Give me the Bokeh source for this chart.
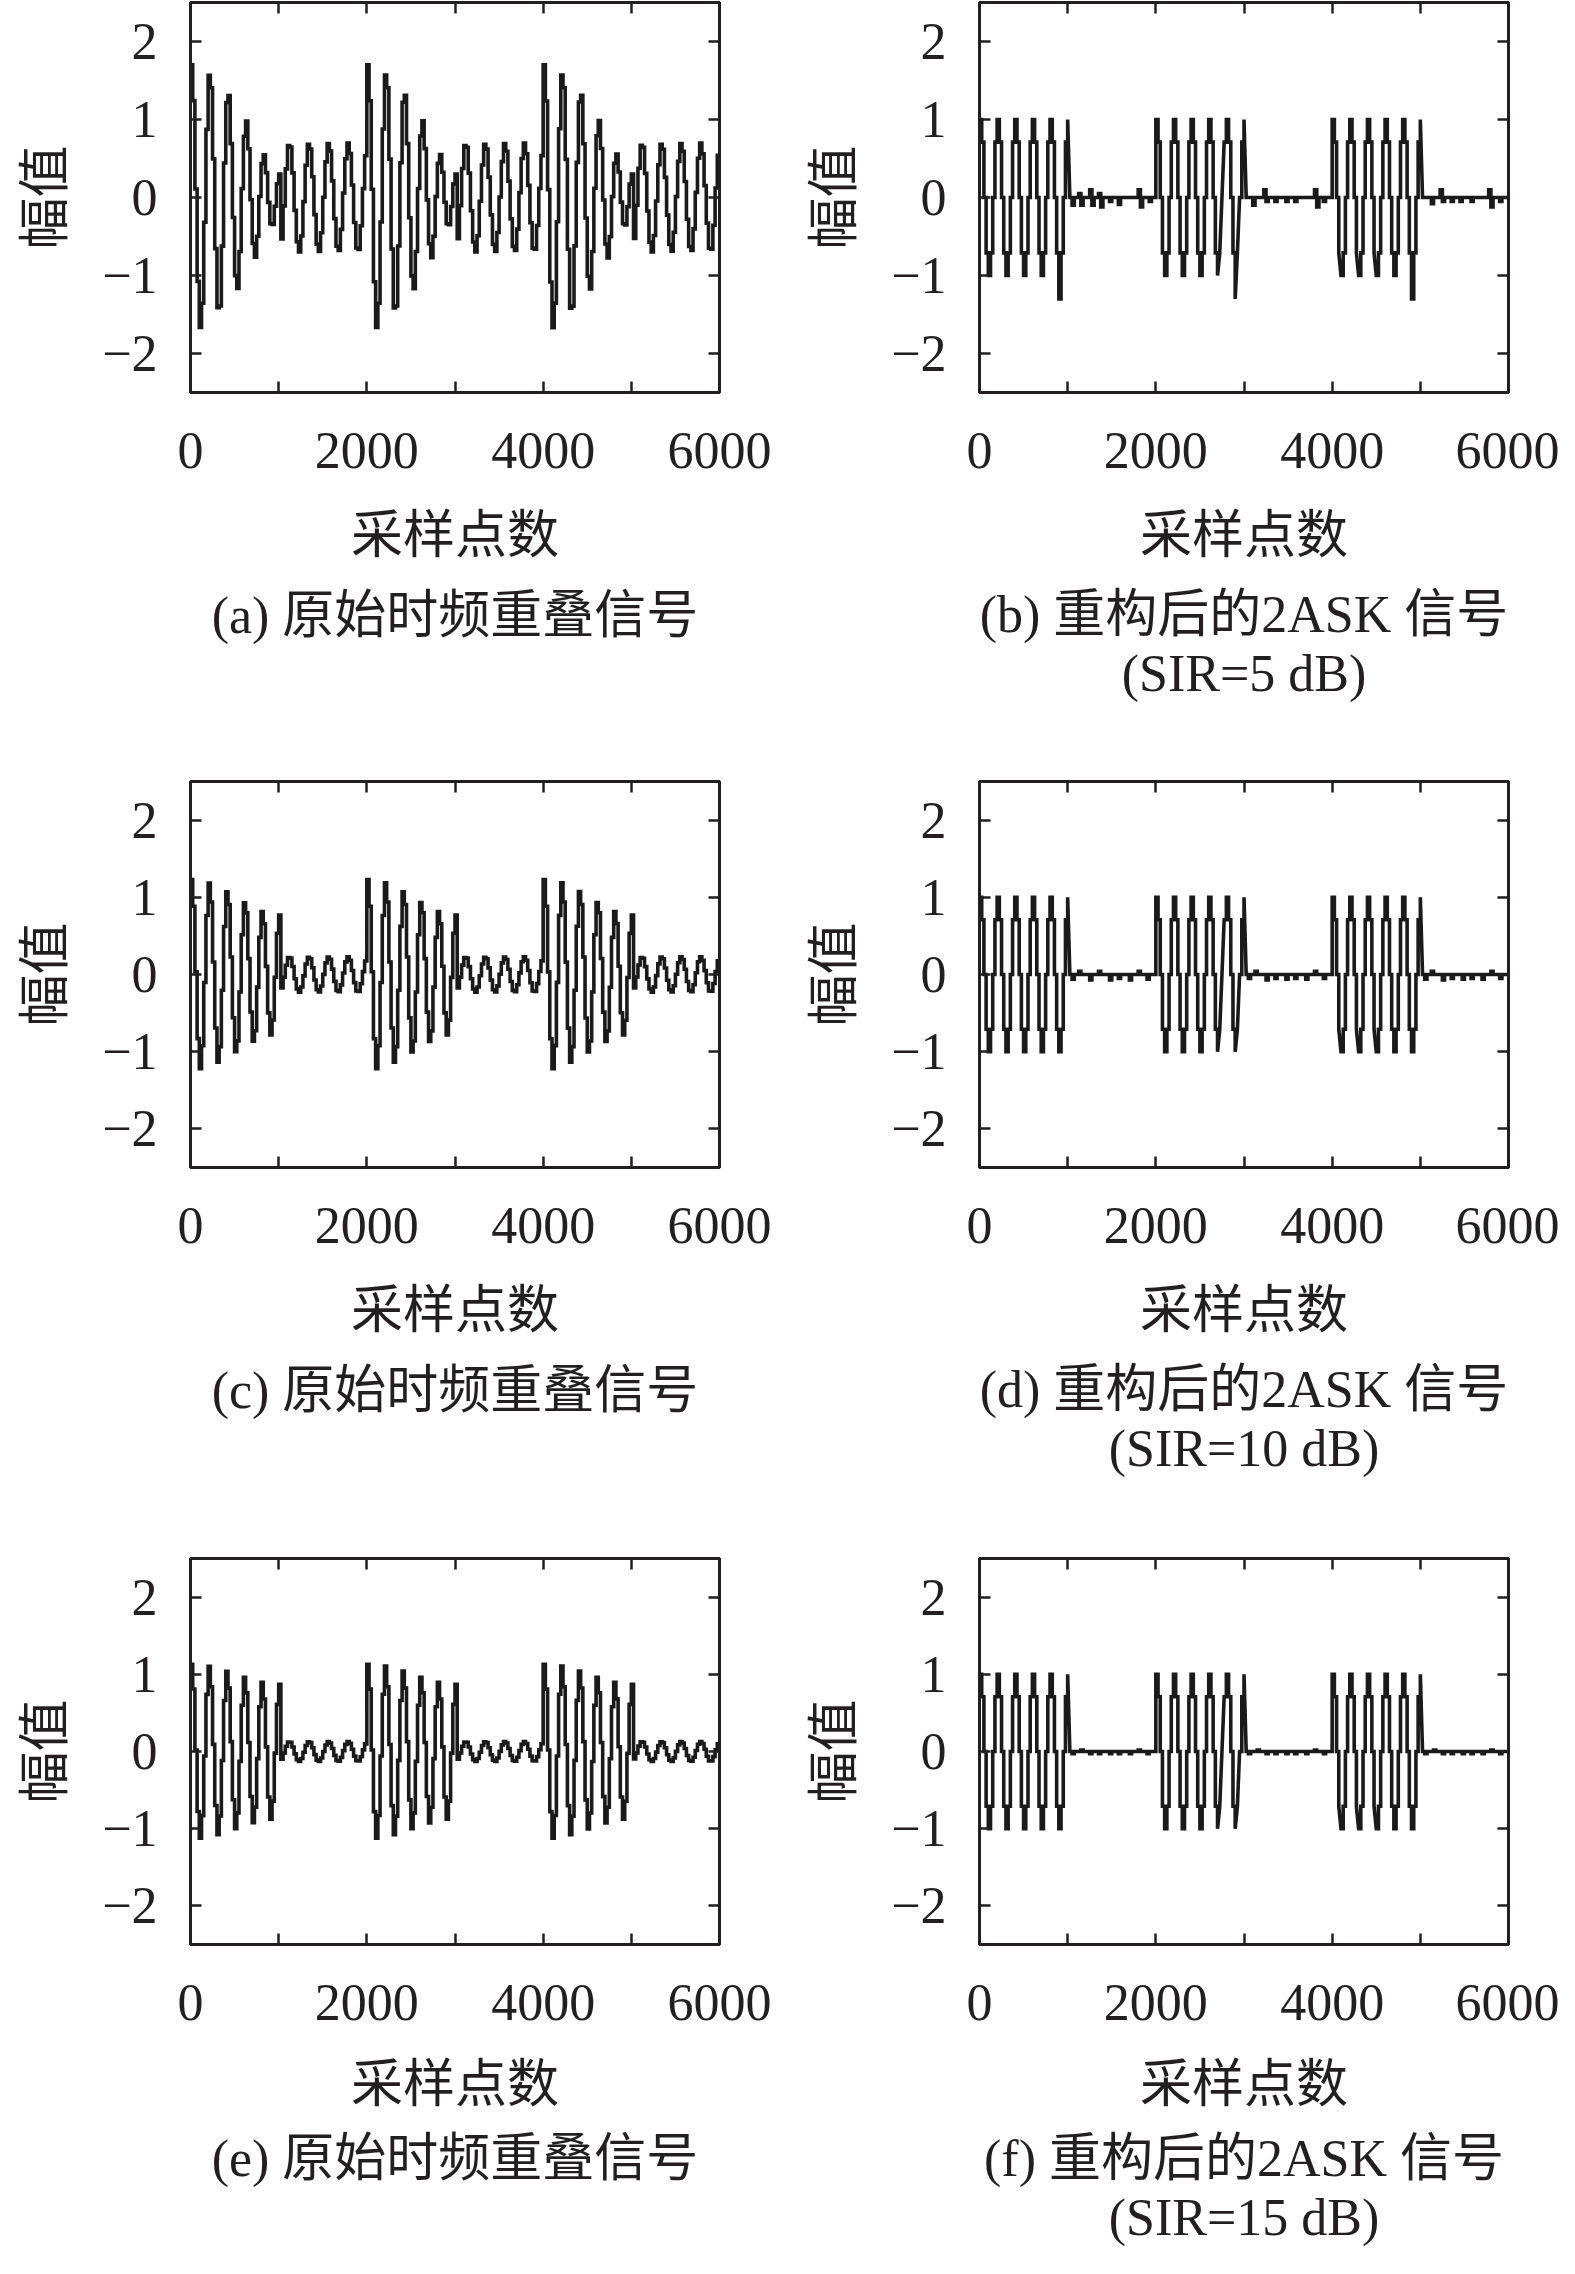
import numpy as np
from bokeh.plotting import figure
from bokeh.models import Range1d, FixedTicker, LinearAxis, Title
from bokeh.layouts import column, row
from bokeh.embed import file_html
from bokeh.resources import INLINE

# ---------------- data ----------------
SAMPLES = 6000                      # x extent (sampling points)
HOLD = 25                           # samples per held value of the staircase
SYMBOLS = [1, 0, 1, 0, 1, 0]        # 2ASK on/off, one symbol per 1000 samples
CARRIER_LEVELS = [1.0, 0.71, 0.0, -0.71, -1.0, -0.71, 0.0, 0.71]   # one carrier period (8 holds)
INTERF_PERIOD = 222.2               # period of the interfering signal (samples)
INTERF_AMP_A = 0.70                 # panel (a)
INTERF_AMP_C = 0.23                 # panel (c)
INTERF_AMP_E = 0.13                 # panel (e)

# residual blips of the reconstructed signals (sample, value)
BLIPS_B = [(1050, -0.10), (1125, 0.05), (1150, -0.10), (1250, 0.10), (1275, -0.10),
           (1350, 0.05), (1375, -0.12), (1475, -0.05), (1575, -0.09), (1800, 0.10),
           (1825, -0.12), (1925, -0.05),
           (3100, -0.10), (3225, 0.10), (3250, -0.05), (3350, -0.05), (3475, -0.05),
           (3575, -0.05), (3800, 0.10), (3825, -0.12), (3900, -0.05),
           (5125, -0.08), (5225, 0.10), (5250, -0.05), (5350, -0.05), (5450, -0.05),
           (5575, -0.05), (5775, 0.10), (5800, -0.12), (5900, -0.05)]
SPIKES_B = [(900, -1.30), (2900, -1.30), (4900, -1.30)]
BLIPS_D = [(1050, -0.06), (1125, 0.04), (1250, -0.07), (1350, 0.04), (1475, -0.07),
           (1575, -0.05), (1700, -0.07), (1800, 0.04), (1900, -0.06),
           (3050, -0.05), (3125, 0.04), (3250, -0.07), (3350, -0.05), (3475, -0.06),
           (3575, -0.05), (3700, -0.06), (3800, 0.04), (3900, -0.05),
           (5050, -0.06), (5125, 0.04), (5250, -0.07), (5350, -0.05), (5475, -0.06),
           (5575, -0.05), (5700, -0.06), (5800, 0.04), (5900, -0.05)]
BLIPS_F = [(1050, -0.03), (1150, 0.02), (1250, -0.03), (1350, -0.03), (1475, -0.03),
           (1575, -0.03), (1700, -0.03), (1800, 0.02), (1900, -0.03),
           (3050, -0.03), (3150, 0.02), (3250, -0.03), (3350, -0.03), (3475, -0.03),
           (3575, -0.03), (3700, -0.03), (3800, 0.02), (3900, -0.03),
           (5050, -0.03), (5150, 0.02), (5250, -0.03), (5350, -0.03), (5475, -0.03),
           (5575, -0.03), (5700, -0.03), (5800, 0.02), (5900, -0.03)]
# holds drawn as slanted segments instead of flat steps (sample positions)
RAMPS_RECON = [1000, 3000, 5000, 2700, 2725, 2750, 2900, 2925, 4075, 4275, 4475]

X_TICKS = [0, 1000, 2000, 3000, 4000, 5000, 6000]
X_TICK_LABELS = {0: "0", 1000: "", 2000: "2000", 3000: "", 4000: "4000", 5000: "", 6000: "6000"}
Y_TICKS = [-2, -1, 0, 1, 2]
Y_TICK_LABELS = {-2: "\u22122", -1: "\u22121", 0: "0", 1: "1", 2: "2"}
X_LABEL = "采样点数"
Y_LABEL = "幅值"
CAP_A = ["(a) 原始时频重叠信号"]
CAP_B = ["(b) 重构后的2ASK 信号", "(SIR=5 dB)"]
CAP_C = ["(c) 原始时频重叠信号"]
CAP_D = ["(d) 重构后的2ASK 信号", "(SIR=10 dB)"]
CAP_E = ["(e) 原始时频重叠信号"]
CAP_F = ["(f) 重构后的2ASK 信号", "(SIR=15 dB)"]

# ---------------- signal construction ----------------
N_HOLDS = SAMPLES // HOLD
HOLDS_PER_SYMBOL = N_HOLDS // len(SYMBOLS)


def ask_levels():
    lv = []
    for k in range(N_HOLDS):
        s = k // HOLDS_PER_SYMBOL
        on = SYMBOLS[s] == 1 or (k % HOLDS_PER_SYMBOL == 0 and s > 0 and SYMBOLS[s - 1] == 1)
        lv.append(CARRIER_LEVELS[k % len(CARRIER_LEVELS)] if on else 0.0)
    return np.array(lv)


def overlapped(amp):
    k = np.arange(N_HOLDS)
    return ask_levels() + amp * np.cos(2 * np.pi * k * HOLD / INTERF_PERIOD)


def reconstructed(overrides):
    lv = ask_levels()
    for s, v in overrides:
        lv[s // HOLD] = v
    return lv


def staircase(levels, ramp_samples):
    ramps = {s // HOLD for s in ramp_samples}
    xs, ys = [], []
    for k, v in enumerate(levels):
        xs.append(k * HOLD)
        ys.append(float(v))
        if k not in ramps or k == len(levels) - 1:
            xs.append((k + 1) * HOLD)
            ys.append(float(v))
    return xs, ys


INK = "#231f20"
SERIF = "Liberation Serif"
CJK = "Noto Sans CJK SC"
MIXED = "Liberation Serif, Noto Sans CJK SC"
FS = "52px"


def style_axis(ax, labels, show):
    ax.axis_line_color = INK
    ax.axis_line_width = 3
    ax.major_tick_line_color = INK
    ax.major_tick_line_width = 2.5
    ax.major_tick_in = 11
    ax.major_tick_out = 0
    ax.minor_tick_line_color = None
    ax.major_label_text_font = SERIF
    ax.major_label_text_color = INK
    if show:
        ax.major_label_text_font_size = FS
        ax.major_label_overrides = labels
    else:
        ax.major_label_text_font_size = "0px"
        ax.major_label_standoff = 0
        ax.major_label_overrides = {k: "" for k in labels}


def make_panel(xs, ys, captions, width, height, b_left, b_right, b_top,
               xlabel_standoff=22, cap_standoff=28):
    frame_h = 390
    p = figure(width=width, height=height, x_range=Range1d(0, SAMPLES), y_range=Range1d(-2.5, 2.5),
               output_backend="svg", toolbar_location=None, title=None,
               min_border_left=b_left, min_border_right=b_right, min_border_top=b_top,
               min_border_bottom=height - b_top - frame_h)
    p.background_fill_color = "white"
    p.border_fill_color = "white"
    p.outline_line_color = INK
    p.outline_line_width = 3
    p.xgrid.visible = False
    p.ygrid.visible = False

    p.line(xs, ys, line_width=3.6, line_color="#1a1a1a", line_join="miter")

    xa = p.xaxis[0]
    xa.ticker = FixedTicker(ticks=X_TICKS)
    style_axis(xa, X_TICK_LABELS, True)
    xa.major_label_standoff = 40
    xa.axis_label = X_LABEL
    xa.axis_label_text_font = CJK
    xa.axis_label_text_font_size = FS
    xa.axis_label_text_font_style = "normal"
    xa.axis_label_text_color = INK
    xa.axis_label_standoff = xlabel_standoff

    ya = p.yaxis[0]
    ya.ticker = FixedTicker(ticks=Y_TICKS)
    style_axis(ya, Y_TICK_LABELS, True)
    ya.major_label_standoff = 33
    ya.axis_label = Y_LABEL
    ya.axis_label_text_font = CJK
    ya.axis_label_text_font_size = FS
    ya.axis_label_text_font_style = "normal"
    ya.axis_label_text_color = INK
    ya.axis_label_standoff = 21

    top = LinearAxis(ticker=FixedTicker(ticks=X_TICKS))
    style_axis(top, X_TICK_LABELS, False)
    p.add_layout(top, "above")
    right = LinearAxis(ticker=FixedTicker(ticks=Y_TICKS))
    style_axis(right, Y_TICK_LABELS, False)
    p.add_layout(right, "right")

    t = Title(text="\n".join(captions), align="center", text_align="center",
              text_font=MIXED, text_font_size=FS,
              text_font_style="normal", text_color=INK, standoff=cap_standoff,
              text_line_height=1.04)
    p.add_layout(t, "below")
    return p


W1, W2 = 772, 787
BL1, BR1 = 190, W1 - 190 - 529
BL2, BR2 = 207, W2 - 207 - 529
H12 = 775
H3 = 2258 - 2 * H12

xa_, ya_ = staircase(overlapped(INTERF_AMP_A), [])
pa = make_panel(xa_, ya_, CAP_A, W1, H12, BL1, BR1, 2)
xb_, yb_ = staircase(reconstructed(BLIPS_B + SPIKES_B), RAMPS_RECON)
pb = make_panel(xb_, yb_, CAP_B, W2, H12, BL2, BR2, 2)
xc_, yc_ = staircase(overlapped(INTERF_AMP_C), [])
pc = make_panel(xc_, yc_, CAP_C, W1, H12, BL1, BR1, 2)
xd_, yd_ = staircase(reconstructed(BLIPS_D), RAMPS_RECON)
pd = make_panel(xd_, yd_, CAP_D, W2, H12, BL2, BR2, 6)
xe_, ye_ = staircase(overlapped(INTERF_AMP_E), [])
pe = make_panel(xe_, ye_, CAP_E, W1, H3, BL1, BR1, 4, xlabel_standoff=19, cap_standoff=17)
xf_, yf_ = staircase(reconstructed(BLIPS_F), RAMPS_RECON)
pf = make_panel(xf_, yf_, CAP_F, W2, H3, BL2, BR2, 8, xlabel_standoff=19, cap_standoff=17)

layout = column(row(pa, pb, spacing=0), row(pc, pd, spacing=0), row(pe, pf, spacing=0), spacing=0)
open("out.html", "w").write(file_html(layout, INLINE))
